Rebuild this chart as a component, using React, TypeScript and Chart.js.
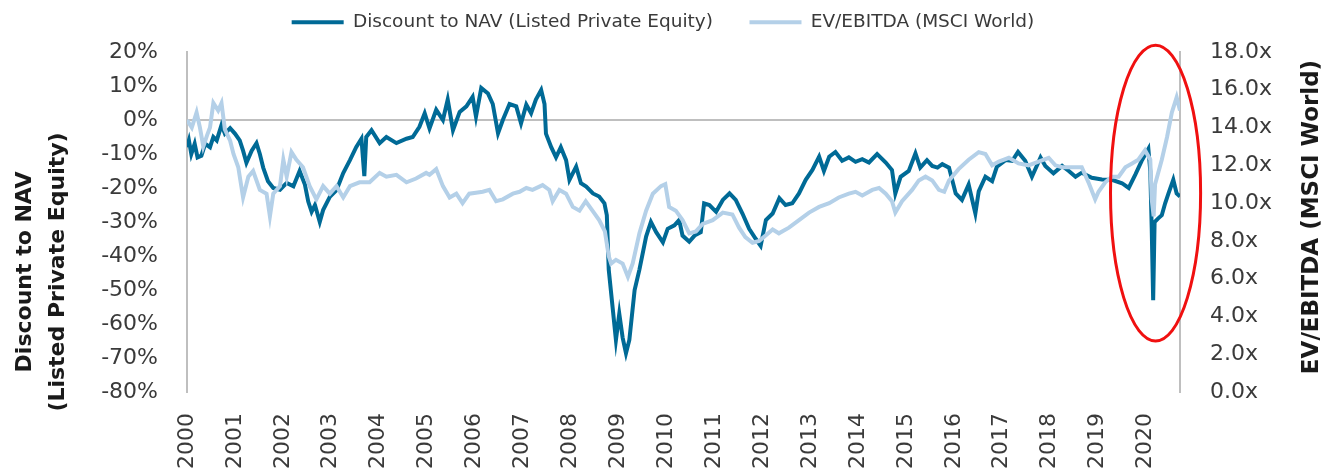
import React, { useEffect, useRef } from 'react';
import { Chart, registerables } from 'chart.js';

Chart.register(...registerables);

// ---------- data ----------
const navYears = [
  2000.0, 2000.04, 2000.09, 2000.16, 2000.22, 2000.3, 2000.38, 2000.48, 2000.55, 2000.62, 2000.72, 2000.79, 2000.9,
  2001.0, 2001.1, 2001.17, 2001.24, 2001.35, 2001.45, 2001.52, 2001.59, 2001.69, 2001.8, 2001.94,
  2002.08, 2002.22, 2002.35, 2002.46, 2002.53, 2002.6, 2002.67, 2002.77, 2002.84, 2002.98,
  2003.12, 2003.26, 2003.4, 2003.53, 2003.64, 2003.7, 2003.74, 2003.85,
  2004.02, 2004.16, 2004.37, 2004.58, 2004.71, 2004.85, 2004.96,
  2005.06, 2005.2, 2005.34, 2005.44, 2005.55, 2005.69, 2005.83, 2005.96,
  2006.03, 2006.14, 2006.28, 2006.38, 2006.49, 2006.59, 2006.73, 2006.87, 2006.97,
  2007.08, 2007.18, 2007.28, 2007.39, 2007.46, 2007.49, 2007.6, 2007.7, 2007.8, 2007.91, 2007.98,
  2008.12, 2008.22, 2008.33, 2008.47, 2008.6, 2008.71, 2008.76, 2008.8, 2008.88, 2008.95,
  2009.02, 2009.09, 2009.16, 2009.23, 2009.34, 2009.44, 2009.58, 2009.68, 2009.79, 2009.93,
  2010.03, 2010.17, 2010.27, 2010.34, 2010.48, 2010.59, 2010.72, 2010.79, 2010.9,
  2011.04, 2011.18, 2011.32, 2011.45, 2011.59, 2011.73, 2011.87, 2011.97,
  2012.08, 2012.22, 2012.36, 2012.49, 2012.63, 2012.77, 2012.91,
  2013.05, 2013.19, 2013.29, 2013.4, 2013.53, 2013.67, 2013.81, 2013.95,
  2014.09, 2014.23, 2014.4, 2014.58, 2014.71, 2014.78, 2014.89,
  2015.06, 2015.2, 2015.3, 2015.44, 2015.55, 2015.66, 2015.76, 2015.9,
  2016.04, 2016.17, 2016.31, 2016.45, 2016.52, 2016.66, 2016.8, 2016.9,
  2017.08, 2017.22, 2017.34, 2017.49, 2017.63, 2017.81, 2017.91,
  2018.08, 2018.26, 2018.4, 2018.54, 2018.67, 2018.88,
  2019.09, 2019.3, 2019.51, 2019.65, 2019.79, 2019.92,
  2020.06, 2020.1, 2020.13, 2020.16, 2020.19, 2020.26, 2020.34, 2020.41, 2020.48, 2020.58, 2020.65, 2020.72,
];
const navDiscount = [
  -8, -6, -10, -7, -11, -10.5, -7, -8, -5, -6, -1.5, -4, -2.4,
  -4, -6, -9, -12.6, -9, -6.8, -10, -14, -18, -20, -20.5,
  -18.5, -19.5, -15, -19, -24, -27, -25, -30, -26.5, -22.6,
  -20.6, -15.6, -11.8, -8, -5.5, -16.5, -5, -3,
  -6.8, -5, -6.8, -5.5, -5, -2, 2,
  -2.5, 3, 0, 6, -3, 2.4, 4, 6.8,
  1, 9.4, 7.8, 4.7, -3.9, 0, 4.7, 4, -1,
  4.5, 2, 6, 8.8, 4.7, -4, -8, -11, -8, -11.8, -17.6,
  -13.7, -18.6, -19.6, -21.6, -22.5, -24.5, -28, -44, -55, -64.7,
  -57, -64, -68.6, -64.7, -50, -44, -34.3, -30, -33, -36,
  -32, -31, -29.4, -34, -35.8, -34, -33, -24.5, -25,
  -27, -23.5, -21.6, -23.5, -27.5, -32, -35, -37,
  -29.4, -27.5, -23, -25, -24.5, -21.6, -17.6,
  -14.7, -10.8, -15, -10.8, -9.4, -12, -11, -12.3,
  -11.5, -12.5, -10, -12.5, -14.7, -21.6, -16.7,
  -15, -9.8, -14, -11.8, -13.5, -14, -13, -14,
  -21.6, -23.5, -19, -27.5, -21, -16.7, -18, -13.7,
  -11.8, -12, -9.4, -12, -16.7, -11, -13.5,
  -15.7, -13.5, -15, -16.7, -15.5, -17,
  -17.5, -17.6, -18.6, -20, -16, -12,
  -8.5, -15, -32, -53, -30, -29, -28, -24.5, -21.6, -17.6, -21.6, -22.5,
];

const evYears = [
  2000.0, 2000.1, 2000.2, 2000.27, 2000.34, 2000.42, 2000.48, 2000.55, 2000.65, 2000.72, 2000.79, 2000.9, 2000.97,
  2001.07, 2001.17, 2001.28, 2001.38, 2001.52, 2001.66, 2001.73, 2001.8, 2001.94,
  2002.01, 2002.08, 2002.18, 2002.28, 2002.42, 2002.56, 2002.7, 2002.84, 2002.98,
  2003.12, 2003.26, 2003.4, 2003.6, 2003.81,
  2004.02, 2004.16, 2004.37, 2004.58, 2004.78, 2004.99,
  2005.06, 2005.2, 2005.34, 2005.48, 2005.62, 2005.75, 2005.89,
  2006.03, 2006.17, 2006.31, 2006.45, 2006.59, 2006.8, 2006.94,
  2007.08, 2007.21, 2007.42, 2007.56, 2007.63, 2007.77, 2007.91,
  2008.05, 2008.19, 2008.32, 2008.46, 2008.6, 2008.72, 2008.8, 2008.85, 2008.95,
  2009.09, 2009.2, 2009.3, 2009.44, 2009.58, 2009.72, 2009.89, 2009.98,
  2010.06, 2010.2, 2010.34, 2010.48, 2010.62, 2010.76, 2010.97,
  2011.18, 2011.38, 2011.52, 2011.65, 2011.8, 2011.94,
  2012.08, 2012.22, 2012.35, 2012.56, 2012.77, 2012.98,
  2013.19, 2013.4, 2013.6, 2013.81, 2013.95,
  2014.09, 2014.3, 2014.44, 2014.58, 2014.71, 2014.78, 2014.92,
  2015.13, 2015.27, 2015.41, 2015.55, 2015.69, 2015.8, 2015.9,
  2016.1, 2016.31, 2016.52, 2016.66, 2016.8, 2016.94,
  2017.15, 2017.35, 2017.56, 2017.77, 2017.98,
  2018.12, 2018.26, 2018.47, 2018.67, 2018.81, 2018.95,
  2019.02, 2019.16, 2019.3, 2019.44, 2019.58, 2019.72, 2019.85, 2019.99,
  2020.1, 2020.13, 2020.17, 2020.2, 2020.34, 2020.45, 2020.55, 2020.65, 2020.72,
];
const evEbitda = [
  14.4, 14.0, 14.8, 14.0, 13.0, 13.6, 14.0, 15.3, 14.9, 15.3, 13.9, 13.3, 12.6,
  11.9, 10.3, 11.4, 11.7, 10.7, 10.5, 9.3, 10.5, 10.9,
  12.3, 11.4, 12.7, 12.3, 11.9, 10.9, 10.2, 10.9, 10.5,
  10.9, 10.3, 10.9, 11.1, 11.1,
  11.6, 11.4, 11.5, 11.1, 11.3, 11.6,
  11.5, 11.8, 10.9, 10.3, 10.5, 10.0, 10.5,
  10.55, 10.6, 10.7, 10.1, 10.2, 10.5, 10.6,
  10.8, 10.7, 10.95, 10.7, 10.1, 10.7, 10.5,
  9.8, 9.6, 10.1, 9.6, 9.1, 8.5, 7.2, 6.8, 7.0,
  6.8, 6.1, 6.8, 8.4, 9.6, 10.5, 10.9, 11.0,
  9.8, 9.6, 9.1, 8.4, 8.5, 8.9, 9.1,
  9.5, 9.4, 8.7, 8.2, 7.9, 8.0,
  8.3, 8.6, 8.4, 8.7, 9.1, 9.5,
  9.8, 10.0, 10.3, 10.5, 10.6,
  10.4, 10.7, 10.8, 10.5, 10.1, 9.5, 10.1,
  10.7, 11.2, 11.4, 11.2, 10.7, 10.6, 11.2,
  11.8, 12.3, 12.7, 12.6, 12.0, 12.2,
  12.4, 12.1, 12.0, 12.2, 12.4,
  12.0, 11.9, 11.9, 11.9, 11.1, 10.2,
  10.6, 11.1, 11.4, 11.4, 11.9, 12.1, 12.3, 12.8,
  12.3, 10.2, 9.3, 11.0, 12.3, 13.5, 14.8, 15.6, 14.9,
];

const yearTicks = [2000, 2001, 2002, 2003, 2004, 2005, 2006, 2007, 2008, 2009, 2010, 2011, 2012, 2013, 2014, 2015, 2016, 2017, 2018, 2019, 2020];
const leftTicks = [-80, -70, -60, -50, -40, -30, -20, -10, 0, 10, 20];
const rightTicks = [0, 2, 4, 6, 8, 10, 12, 14, 16, 18];
const seriesLabels = ['Discount to NAV (Listed Private Equity)', 'EV/EBITDA (MSCI World)'];
const leftTitleLines = ['Discount to NAV', '(Listed Private Equity)'];
const rightTitleText = 'EV/EBITDA (MSCI World)';
// highlighted region (in data units): centre year / centre % and half extents
const highlightCentre = [2020.21, -21.5];
const highlightHalf = [0.94, 43.5];

// ---------- styles ----------
const DARK = '#006a96';
const LIGHT = '#b4d0e8';
const AXIS_GREY = '#bfbfbf';
const TEXT = '#3a3a3a';
const FONT = 'DejaVu Sans';
const LEGEND_GAP = '    ';

const titlesPlugin = {
  id: 'axisTitles',
  afterDraw(chart: any) {
    const ctx = chart.ctx;
    ctx.save();
    ctx.fillStyle = '#1a1a1a';
    ctx.textAlign = 'center';
    ctx.textBaseline = 'middle';
    const draw = (text: string, x: number, y: number, size: number) => {
      ctx.save();
      ctx.font = `bold ${size}px "${FONT}"`;
      ctx.translate(x, y);
      ctx.rotate(-Math.PI / 2);
      ctx.fillText(text, 0, 0);
      ctx.restore();
    };
    draw(leftTitleLines[0], 25, 272, 22);
    draw(leftTitleLines[1], 58, 272, 22);
    draw(rightTitleText, 1312, 217, 23);
    ctx.restore();
  },
};

const ellipsePlugin = {
  id: 'highlightEllipse',
  afterDatasetsDraw(chart: any) {
    const xs = chart.scales.x;
    const ys = chart.scales.y;
    const cx = xs.getPixelForValue(highlightCentre[0]);
    const cy = ys.getPixelForValue(highlightCentre[1]);
    const rx = Math.abs(xs.getPixelForValue(highlightCentre[0] + highlightHalf[0]) - cx);
    const ry = Math.abs(ys.getPixelForValue(highlightCentre[1] + highlightHalf[1]) - cy);
    const ctx = chart.ctx;
    ctx.save();
    ctx.strokeStyle = '#f01010';
    ctx.lineWidth = 3;
    ctx.beginPath();
    ctx.ellipse(cx, cy, rx, ry, 0, 0, Math.PI * 2);
    ctx.stroke();
    ctx.restore();
  },
};

export default function App() {
  const canvasRef = useRef<HTMLCanvasElement | null>(null);

  useEffect(() => {
    if (!canvasRef.current) return;
    Chart.defaults.font.family = FONT;
    const tickFont = { family: FONT, size: 22 };
    const chart = new Chart(canvasRef.current, {
      type: 'line',
      data: {
        datasets: [
          {
            label: seriesLabels[0],
            data: navYears.map((x, i) => ({ x, y: navDiscount[i] })),
            borderColor: DARK,
            backgroundColor: DARK,
            borderWidth: 4,
            pointRadius: 0,
            tension: 0,
            yAxisID: 'y',
            order: 1,
          },
          {
            label: seriesLabels[1],
            data: evYears.map((x, i) => ({ x, y: evEbitda[i] })),
            borderColor: LIGHT,
            backgroundColor: LIGHT,
            borderWidth: 4,
            pointRadius: 0,
            tension: 0,
            yAxisID: 'y1',
            order: 0,
          },
        ],
      },
      options: {
        animation: false,
        responsive: false,
        maintainAspectRatio: false,
        layout: { padding: { top: 0, left: 0, right: 0, bottom: 0 } },
        plugins: {
          tooltip: { enabled: false },
          // empty spacer placed between the legend and the plot area
          title: {
            display: true,
            text: ' ',
            position: 'top',
            weight: 500,
            font: { size: 10.5, lineHeight: 1 },
            padding: 0,
          },
          legend: {
            display: true,
            position: 'top',
            weight: 1000,
            labels: {
              font: { family: FONT, size: 18.5 },
              color: TEXT,
              boxWidth: 52,
              boxHeight: 4,
              padding: 13,
              generateLabels: (c: any) =>
                c.data.datasets.map((ds: any, i: number, arr: any[]) => ({
                  text: i < arr.length - 1 ? ds.label + LEGEND_GAP : ds.label,
                  fillStyle: ds.borderColor,
                  strokeStyle: ds.borderColor,
                  lineWidth: 0,
                  hidden: false,
                  datasetIndex: i,
                  fontColor: TEXT,
                })),
            },
          },
        },
        scales: {
          x: {
            type: 'linear',
            min: 2000,
            max: 2020.72,
            afterBuildTicks: (s: any) => {
              s.ticks = yearTicks.map((v) => ({ value: v }));
            },
            afterFit: (s: any) => {
              s.height = 80;
            },
            ticks: {
              autoSkip: false,
              minRotation: 90,
              maxRotation: 90,
              padding: 21,
              color: TEXT,
              font: tickFont,
              callback: (v: any) => String(v),
            },
            grid: { display: false, drawTicks: false },
            border: { display: false },
          },
          y: {
            type: 'linear',
            position: 'left',
            min: -80,
            max: 20,
            afterBuildTicks: (s: any) => {
              s.ticks = leftTicks.map((v) => ({ value: v }));
            },
            afterFit: (s: any) => {
              s.width = 187;
            },
            ticks: {
              padding: 29,
              color: TEXT,
              font: tickFont,
              callback: (v: any) => `${v}%`,
            },
            grid: {
              drawTicks: false,
              lineWidth: 2,
              color: (ctx: any) => (ctx.tick && ctx.tick.value === 0 ? AXIS_GREY : 'rgba(0,0,0,0)'),
            },
            border: { display: true, color: AXIS_GREY, width: 2 },
          },
          y1: {
            type: 'linear',
            position: 'right',
            min: 0,
            max: 18,
            afterBuildTicks: (s: any) => {
              s.ticks = rightTicks.map((v) => ({ value: v }));
            },
            afterFit: (s: any) => {
              s.width = 146;
            },
            ticks: {
              padding: 30,
              color: TEXT,
              font: tickFont,
              callback: (v: any) => `${Number(v).toFixed(1)}x`,
            },
            grid: { drawOnChartArea: false, drawTicks: false },
            border: { display: true, color: AXIS_GREY, width: 2 },
          },
        },
      },
      plugins: [titlesPlugin, ellipsePlugin],
    } as any);
    return () => chart.destroy();
  }, []);

  return (
    <div style={{ position: 'absolute', left: 0, top: 0, width: 1326, height: 472, background: '#fff' }}>
      <canvas ref={canvasRef} width={1326} height={472} style={{ display: 'block' }} />
    </div>
  );
}
